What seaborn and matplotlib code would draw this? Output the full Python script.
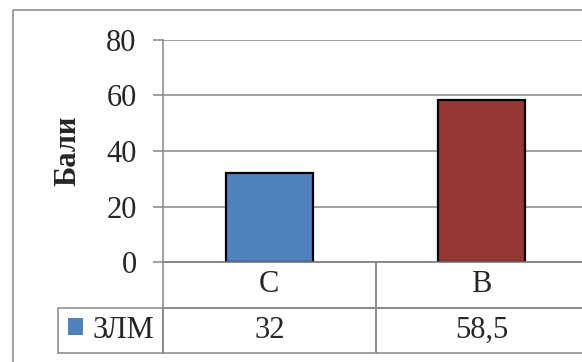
import matplotlib
matplotlib.use('Agg')

import matplotlib.pyplot as plt
import seaborn as sns
from matplotlib.patches import Patch, Rectangle

# data
categories = ['C', 'B']
values = [32, 58.5]
value_labels = ['32', '58,5']
series_name = 'ЗЛМ'
bar_colors = ['#4F81BD', '#953735']
y_ticks = [0, 20, 40, 60, 80]

sns.set_style('white')
plt.rcParams['font.family'] = ['Liberation Serif', 'DejaVu Serif']

grey = '#868686'
fs = 22

fig = plt.figure(figsize=(5.82, 3.62), dpi=100)
# plot area: x 163..588 px, y 40..262 px
ax = fig.add_axes([163 / 582, 1 - 262 / 362, 425 / 582, 222 / 362])

sns.barplot(x=categories, y=values, hue=categories, palette=bar_colors,
            width=0.41, edgecolor='black', linewidth=1.6, legend=False,
            saturation=1, ax=ax)

ax.set_xlim(-0.5, 1.5)
ax.set_ylim(0, 80)
ax.set_yticks(y_ticks)
ax.set_yticklabels([str(t) for t in y_ticks], fontsize=fs)
ax.yaxis.grid(True, color=grey, lw=1.1)
ax.set_axisbelow(True)
ax.tick_params(axis='y', length=7, width=1.1, color=grey, pad=12, left=True)
ax.set_xticks([])
ax.set_xlabel('')
ax.set_ylabel('Бали', fontsize=fs, fontweight='bold', labelpad=17)

for side in ['top', 'right']:
    ax.spines[side].set_visible(False)
for side in ['left', 'bottom']:
    ax.spines[side].set_color(grey)
    ax.spines[side].set_linewidth(1.1)

# data table under the chart
cell_text = [['', categories[0], categories[1]],
             [series_name, value_labels[0], value_labels[1]]]
tbl = ax.table(cellText=cell_text, colWidths=[105, 212.5, 212.5],
               cellLoc='center', bbox=[-105 / 425, -91 / 222, 530 / 425, 91 / 222])
tbl.auto_set_font_size(False)
tbl.set_fontsize(fs)
for (r, c), cell in tbl.get_celld().items():
    cell.set_edgecolor(grey)
    cell.set_linewidth(1.1)
    cell.set_facecolor('none')
tbl[0, 0].visible_edges = 'open'
tbl[1, 0]._loc = 'right'
tbl[1, 0].PAD = 0.08
tbl[1, 0].get_text().set_horizontalalignment('right')

# legend key inside the table row label
ax.legend(handles=[Patch(facecolor=bar_colors[0], edgecolor='none')], labels=[''],
          loc='center left', bbox_to_anchor=(-95 / 425, -68 / 222),
          frameon=False, borderpad=0, borderaxespad=0, handlelength=0.5,
          handleheight=0.5, handletextpad=0, fontsize=fs)

# outer chart border (cut off right and bottom)
fig.add_artist(Rectangle((13 / 582, -0.1), 1.2, 1.1 - 10 / 362,
                         transform=fig.transFigure, fill=False,
                         edgecolor=grey, lw=1.1))

fig.savefig('out.png', dpi=100)
